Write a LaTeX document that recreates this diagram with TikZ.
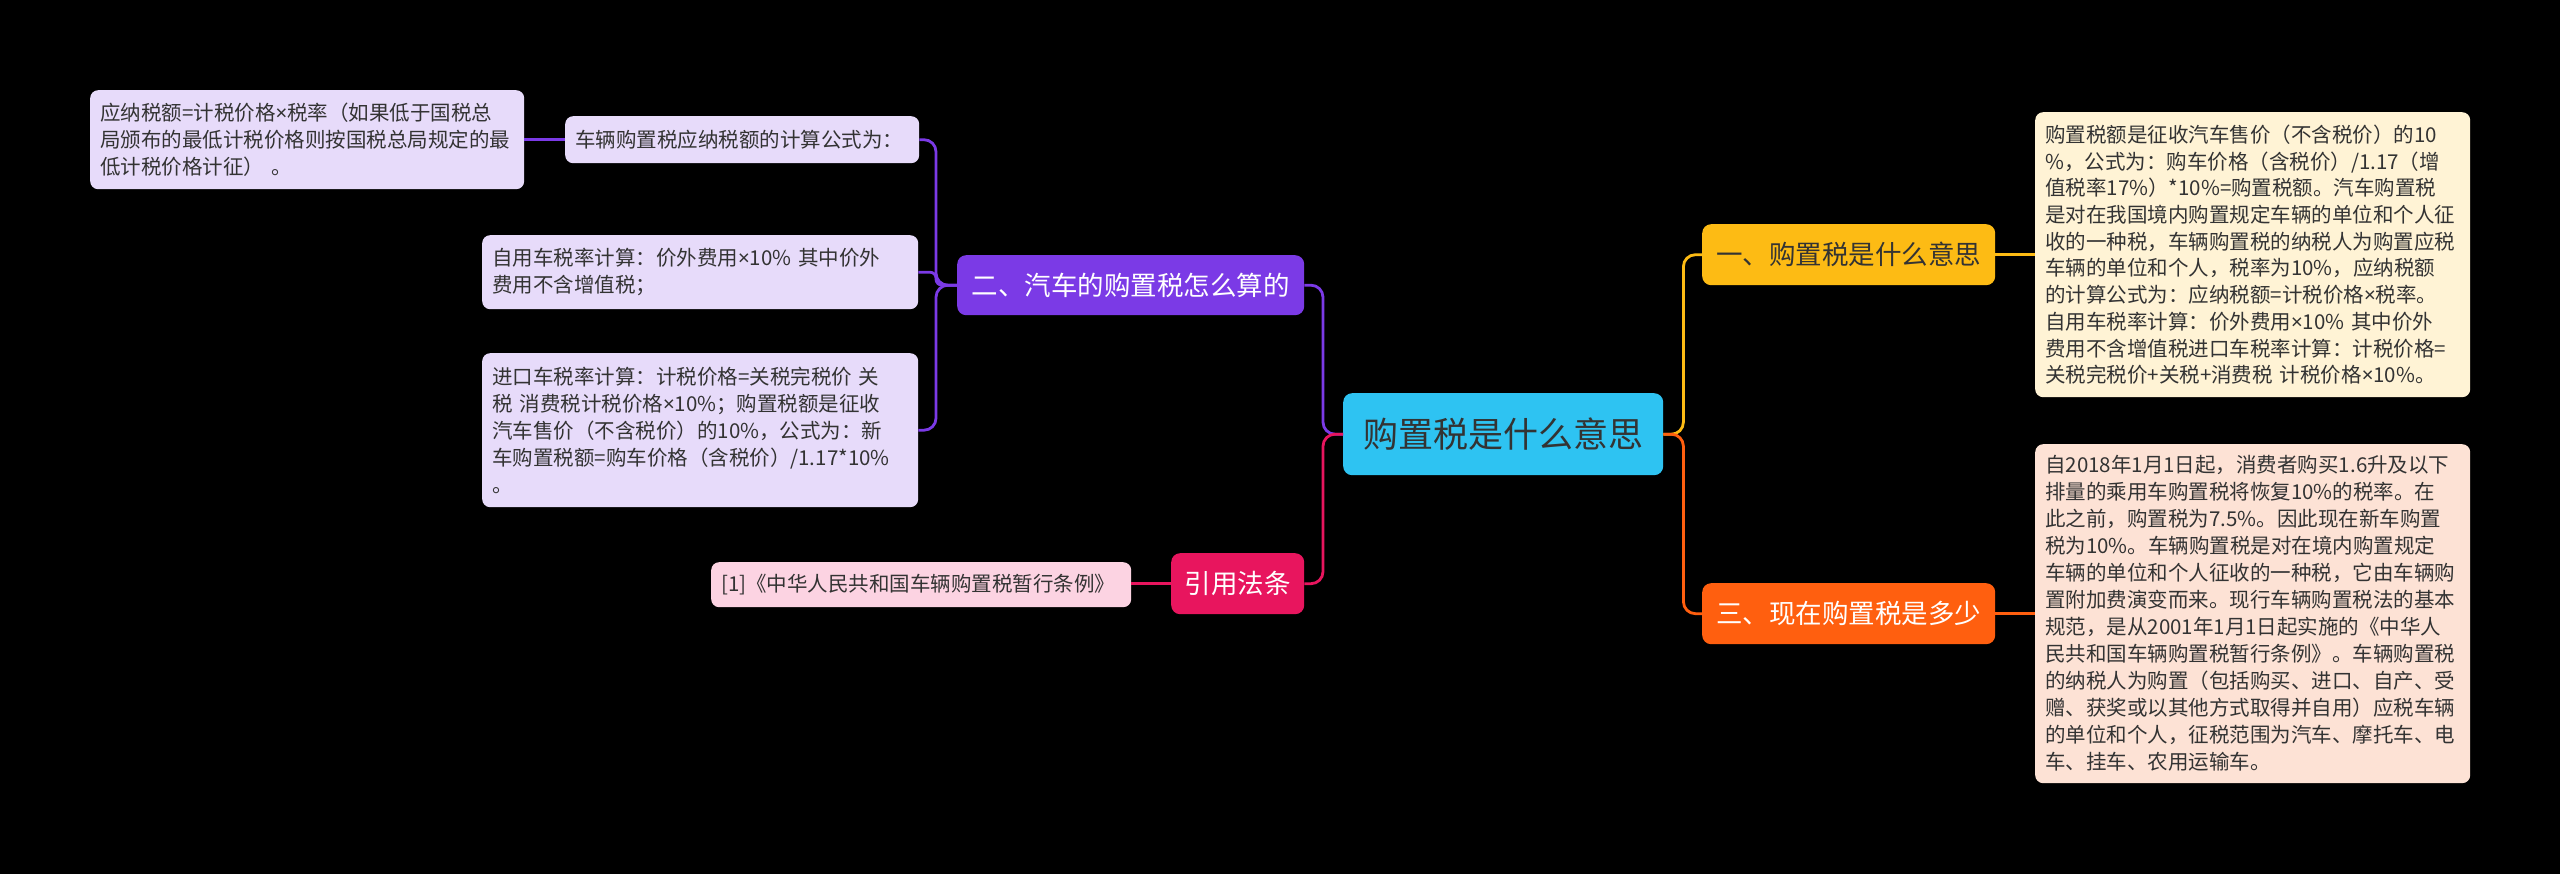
\documentclass[tikz,border=0pt]{standalone}
\usepackage{fontspec}
\setmainfont{Noto Sans CJK SC}
\newfontfamily\latfont{Noto Sans}
\newcommand{\mytimes}{{\latfont ×}}
\definecolor{cPurple}{HTML}{7B3AE6}
\definecolor{cPink}{HTML}{E8155E}
\definecolor{cYellow}{HTML}{FDBB14}
\definecolor{cOrange}{HTML}{FF5F0F}
\definecolor{cCyan}{HTML}{2EC3F2}
\definecolor{lPurple}{HTML}{E7DBFA}
\definecolor{lPink}{HTML}{FCD3E2}
\definecolor{lYellow}{HTML}{FFF3D5}
\definecolor{lOrange}{HTML}{FDE2D5}
\definecolor{txtDark}{HTML}{333333}
\tikzset{
  leafbox/.style={anchor=north west, rounded corners=8pt, inner xsep=10pt, inner ysep=0pt,
    align=left, text=txtDark, font=\fontsize{20.5pt}{27pt}\selectfont},
  mainbox/.style={anchor=north west, rounded corners=9pt, inner sep=0pt, align=center,
    font=\fontsize{26.5pt}{30pt}\selectfont},
  conn/.style={line width=2.8pt, rounded corners=12pt},
}
\begin{document}
\begin{tikzpicture}[x=1pt,y=-1pt]
\fill[black] (0,0) rectangle (2560,874);
\useasboundingbox (0,0) rectangle (2560,874);

% center
\node[mainbox, fill=cCyan, text=txtDark, minimum width=320pt, minimum height=82pt,
  font=\fontsize{35pt}{40pt}\selectfont] (H) at (1343,393) {购置税是什么意思};

% main branches
\node[mainbox, fill=cPurple, text=white, minimum width=347pt, minimum height=60pt] (E) at (957,255) {二、汽车的购置税怎么算的};
\node[mainbox, fill=cPink, text=white, minimum width=133pt, minimum height=61pt] (F) at (1171,553) {引用法条};
\node[mainbox, fill=cYellow, text=txtDark, minimum width=293pt, minimum height=61pt] (I) at (1702,224) {一、购置税是什么意思};
\node[mainbox, fill=cOrange, text=white, minimum width=293pt, minimum height=61pt] (J) at (1702,583) {三、现在购置税是多少};

% leaves of E
\node[leafbox, fill=lPurple, text width=334pt, minimum height=47pt] (B) at (565,116) {车辆购置税应纳税额的计算公式为：};
\node[leafbox, fill=lPurple, text width=414pt, minimum height=99pt] (A) at (90,90) {应纳税额=计税价格\mytimes 税率（如果低于国税总\\局颁布的最低计税价格则按国税总局规定的最\\低计税价格计征） 。};
\node[leafbox, fill=lPurple, text width=416pt, minimum height=74pt] (C) at (482,235) {自用车税率计算：价外费用\mytimes 10\% 其中价外\\费用不含增值税；};
\node[leafbox, fill=lPurple, text width=416pt, minimum height=154pt] (D) at (482,353) {进口车税率计算：计税价格=关税完税价 关\\税 消费税计税价格\mytimes 10\%；购置税额是征收\\汽车售价（不含税价）的10\%，公式为：新\\车购置税额=购车价格（含税价）/1.17*10\%\\。};

% leaf of F
\node[leafbox, fill=lPink, text width=400pt, minimum height=45pt] (G) at (711,562) {[1]《中华人民共和国车辆购置税暂行条例》};

% leaf of I
\node[leafbox, fill=lYellow, text width=415pt, minimum height=285pt, font=\fontsize{20.5pt}{26.7pt}\selectfont] (K) at (2035,112) {购置税额是征收汽车售价（不含税价）的10\\\%，公式为：购车价格（含税价）/1.17（增\\值税率17\%）*10\%=购置税额。汽车购置税\\是对在我国境内购置规定车辆的单位和个人征\\收的一种税，车辆购置税的纳税人为购置应税\\车辆的单位和个人，税率为10\%，应纳税额\\的计算公式为：应纳税额=计税价格\mytimes 税率。\\自用车税率计算：价外费用\mytimes 10\% 其中价外\\费用不含增值税进口车税率计算：计税价格=\\关税完税价+关税+消费税 计税价格\mytimes 10\%。};

% leaf of J
\node[leafbox, fill=lOrange, text width=415pt, minimum height=339pt] (L) at (2035,444) {自2018年1月1日起，消费者购买1.6升及以下\\排量的乘用车购置税将恢复10\%的税率。在\\此之前，购置税为7.5\%。因此现在新车购置\\税为10\%。车辆购置税是对在境内购置规定\\车辆的单位和个人征收的一种税，它由车辆购\\置附加费演变而来。现行车辆购置税法的基本\\规范，是从2001年1月1日起实施的《中华人\\民共和国车辆购置税暂行条例》。车辆购置税\\的纳税人为购置（包括购买、进口、自产、受\\赠、获奖或以其他方式取得并自用）应税车辆\\的单位和个人，征税范围为汽车、摩托车、电\\车、挂车、农用运输车。};

% connectors
\draw[conn, cPurple] (H.west) -- ++(-20,0) |- (E.east);
\draw[conn, cPink] (H.west) -- ++(-20,0) |- (F.east);
\draw[conn, cYellow] (H.east) -- ++(20,0) |- (I.west);
\draw[conn, cOrange] (H.east) -- ++(20,0) |- (J.west);
\draw[conn, cYellow] (I.east) -- (K.west |- I.east);
\draw[conn, cOrange] (J.east) -- (L.west |- J.east);
\draw[conn, cPink] (F.west) -- (G.east |- F.west);
\draw[conn, cPurple] (E.west) -- ++(-21,0) |- (B.east);
\draw[conn, cPurple, rounded corners=6pt] (E.west) -- ++(-21,0) |- (C.east);
\draw[conn, cPurple] (E.west) -- ++(-21,0) |- (D.east);
\draw[conn, cPurple] (B.west) -- (A.east |- B.west);
\end{tikzpicture}
\end{document}
